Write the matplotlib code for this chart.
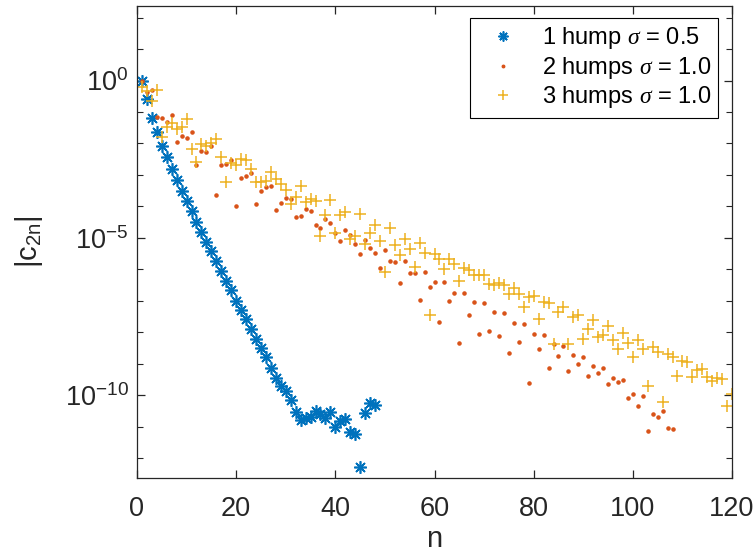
import numpy as np
import matplotlib
matplotlib.use("Agg")
import matplotlib.pyplot as plt
from matplotlib.ticker import NullFormatter

plt.rcParams['font.family'] = ['Liberation Sans', 'DejaVu Sans']
plt.rcParams['mathtext.fontset'] = 'custom'
plt.rcParams['mathtext.rm'] = 'Liberation Sans'
plt.rcParams['mathtext.it'] = 'Liberation Serif:italic'
plt.rcParams['axes.unicode_minus'] = False

# exponents (|c_2n| = 10**value)
n_one = list(range(1, 49))
log_one = [0.0, -0.60, -1.19, -1.65, -2.07, -2.44, -2.80, -3.16, -3.50, -3.82,
           -4.15, -4.48, -4.80, -5.12, -5.43, -5.74, -6.05, -6.37, -6.66, -6.99,
           -7.30, -7.58, -7.90, -8.21, -8.51, -8.80, -9.12, -9.44, -9.70, -9.88,
           -10.15, -10.54, -10.79, -10.71, -10.68, -10.51, -10.61, -10.73, -10.54, -11.02,
           -10.83, -10.77, -11.18, -11.24, -12.28, -10.58, -10.24, -10.30]

n_two = list(range(1, 109))
log_two = [0.0, -0.35, -0.29, -1.16, -1.18, -1.31, -1.08, -1.96, -1.77, -1.84,
           -1.62, -2.69, -2.25, -2.28, -2.09, -3.64, -2.69, -2.66, -2.52, -3.98,
           -3.09, -3.02, -2.94, -3.92, -3.51, -3.39, -3.35, -4.10, -3.90, -3.73,
           -3.75, -4.34, -4.29, -4.07, -4.14, -4.60, -4.70, -4.41, -4.53, -4.85,
           -5.11, -4.75, -4.92, -5.18, -5.52, -5.07, -5.32, -5.48, -5.95, -5.40,
           -5.72, -5.78, -6.43, -5.74, -6.13, -6.10, -6.96, -6.08, -6.55, -6.41,
           -7.68, -6.41, -6.99, -6.74, -8.33, -6.74, -7.46, -7.05, -8.05, -7.08,
           -7.97, -7.37, -8.13, -7.40, -8.67, -7.71, -8.31, -7.75, -9.61, -8.04,
           -8.53, -8.08, -9.15, -8.36, -8.76, -8.43, -9.24, -8.71, -9.02, -8.78,
           -9.39, -9.07, -9.28, -9.13, -9.64, -9.44, -9.58, -9.53, -10.10, -9.95,
           -10.35, -10.01, -11.15, -10.59, -10.70, -10.49, -11.03, -11.07]

n_three = list(range(1, 121))
log_three = [-0.20, -0.34, -0.66, -0.29, -1.79, -1.47, -1.34, -1.53, -1.49, -1.21,
             -2.16, -2.59, -2.02, -2.09, -2.00, -1.87, -2.44, -3.23, -2.62, -2.69,
             -2.48, -2.51, -2.82, -3.22, -3.21, -3.18, -2.90, -3.14, -3.29, -3.49,
             -3.91, -3.71, -3.35, -3.86, -3.77, -3.84, -4.94, -4.28, -3.80, -4.83,
             -4.26, -4.19, -5.05, -4.94, -4.23, -5.20, -4.83, -4.60, -5.11, -6.08,
             -4.68, -5.21, -5.53, -5.02, -5.36, -5.92, -5.16, -5.48, -7.44, -5.51,
             -5.68, -6.00, -5.66, -5.82, -6.38, -5.97, -6.03, -6.19, -6.19, -6.17,
             -6.48, -6.50, -6.43, -6.50, -6.79, -6.59, -6.77, -7.19, -6.88, -6.84,
             -7.58, -7.04, -7.08, -8.36, -7.35, -7.19, -8.36, -7.51, -7.44, -8.20,
             -7.88, -7.61, -8.16, -8.07, -7.81, -8.26, -8.52, -8.01, -8.34, -8.78,
             -8.25, -8.52, -9.71, -8.46, -8.62, -10.22, -8.68, -8.80, -9.40, -8.92,
             -8.95, -9.43, -9.21, -9.18, -9.42, -9.56, -9.44, -9.50, -10.35, -9.95]

labels = [r'1 hump $\sigma$ = 0.5', r'2 humps $\sigma$ = 1.0', r'3 humps $\sigma$ = 1.0']

fig = plt.figure(figsize=(7.56, 5.54), dpi=100)
ax = fig.add_axes([0.1812, 0.1372, 0.7871, 0.852])

ax.semilogy(n_one, 10.0 ** np.array(log_one), linestyle='none', marker=(8, 2, 0),
            markersize=9, markeredgewidth=1.2, color='#0072BD', label=labels[0])
ax.semilogy(n_two, 10.0 ** np.array(log_two), linestyle='none', marker='.',
            markersize=4.5, color='#D95319', label=labels[1])
ax.semilogy(n_three, 10.0 ** np.array(log_three), linestyle='none', marker='+',
            markersize=9, markeredgewidth=1.1, color='#EDB120', label=labels[2])

ax.set_xlim(0, 120)
ax.set_ylim(10 ** -12.63, 10 ** 2.37)
ax.set_xticks([0, 20, 40, 60, 80, 100, 120])
ax.set_yticks([1e-10, 1e-5, 1e0])
ax.set_yticks([10.0 ** k for k in range(-12, 3) if k % 5 != 0], minor=True)
ax.yaxis.set_minor_formatter(NullFormatter())

for s in ax.spines.values():
    s.set_color('#262626')
    s.set_linewidth(0.9)
ax.tick_params(which='both', direction='in', top=True, right=True,
               colors='#262626', labelsize=19.5)
ax.tick_params(which='major', length=6, width=0.9)
ax.tick_params(which='minor', length=4, width=0.8)
ax.tick_params(axis='x', pad=13)
ax.tick_params(axis='y', pad=6)

ax.set_xlabel('n', fontsize=21, color='#262626', labelpad=2)
ax.set_ylabel(r'|c$_{\mathregular{2n}}$|', fontsize=21, color='#262626', labelpad=14)

leg = ax.legend(loc='upper right', bbox_to_anchor=(0.977, 0.974), fontsize=17,
                frameon=True, fancybox=False, framealpha=1, edgecolor='black',
                borderpad=0.3, labelspacing=0.15, handlelength=2.2, handletextpad=0.55,
                borderaxespad=0, markerscale=0.8)
leg.get_frame().set_linewidth(0.8)

fig.savefig('out.png', dpi=100)
